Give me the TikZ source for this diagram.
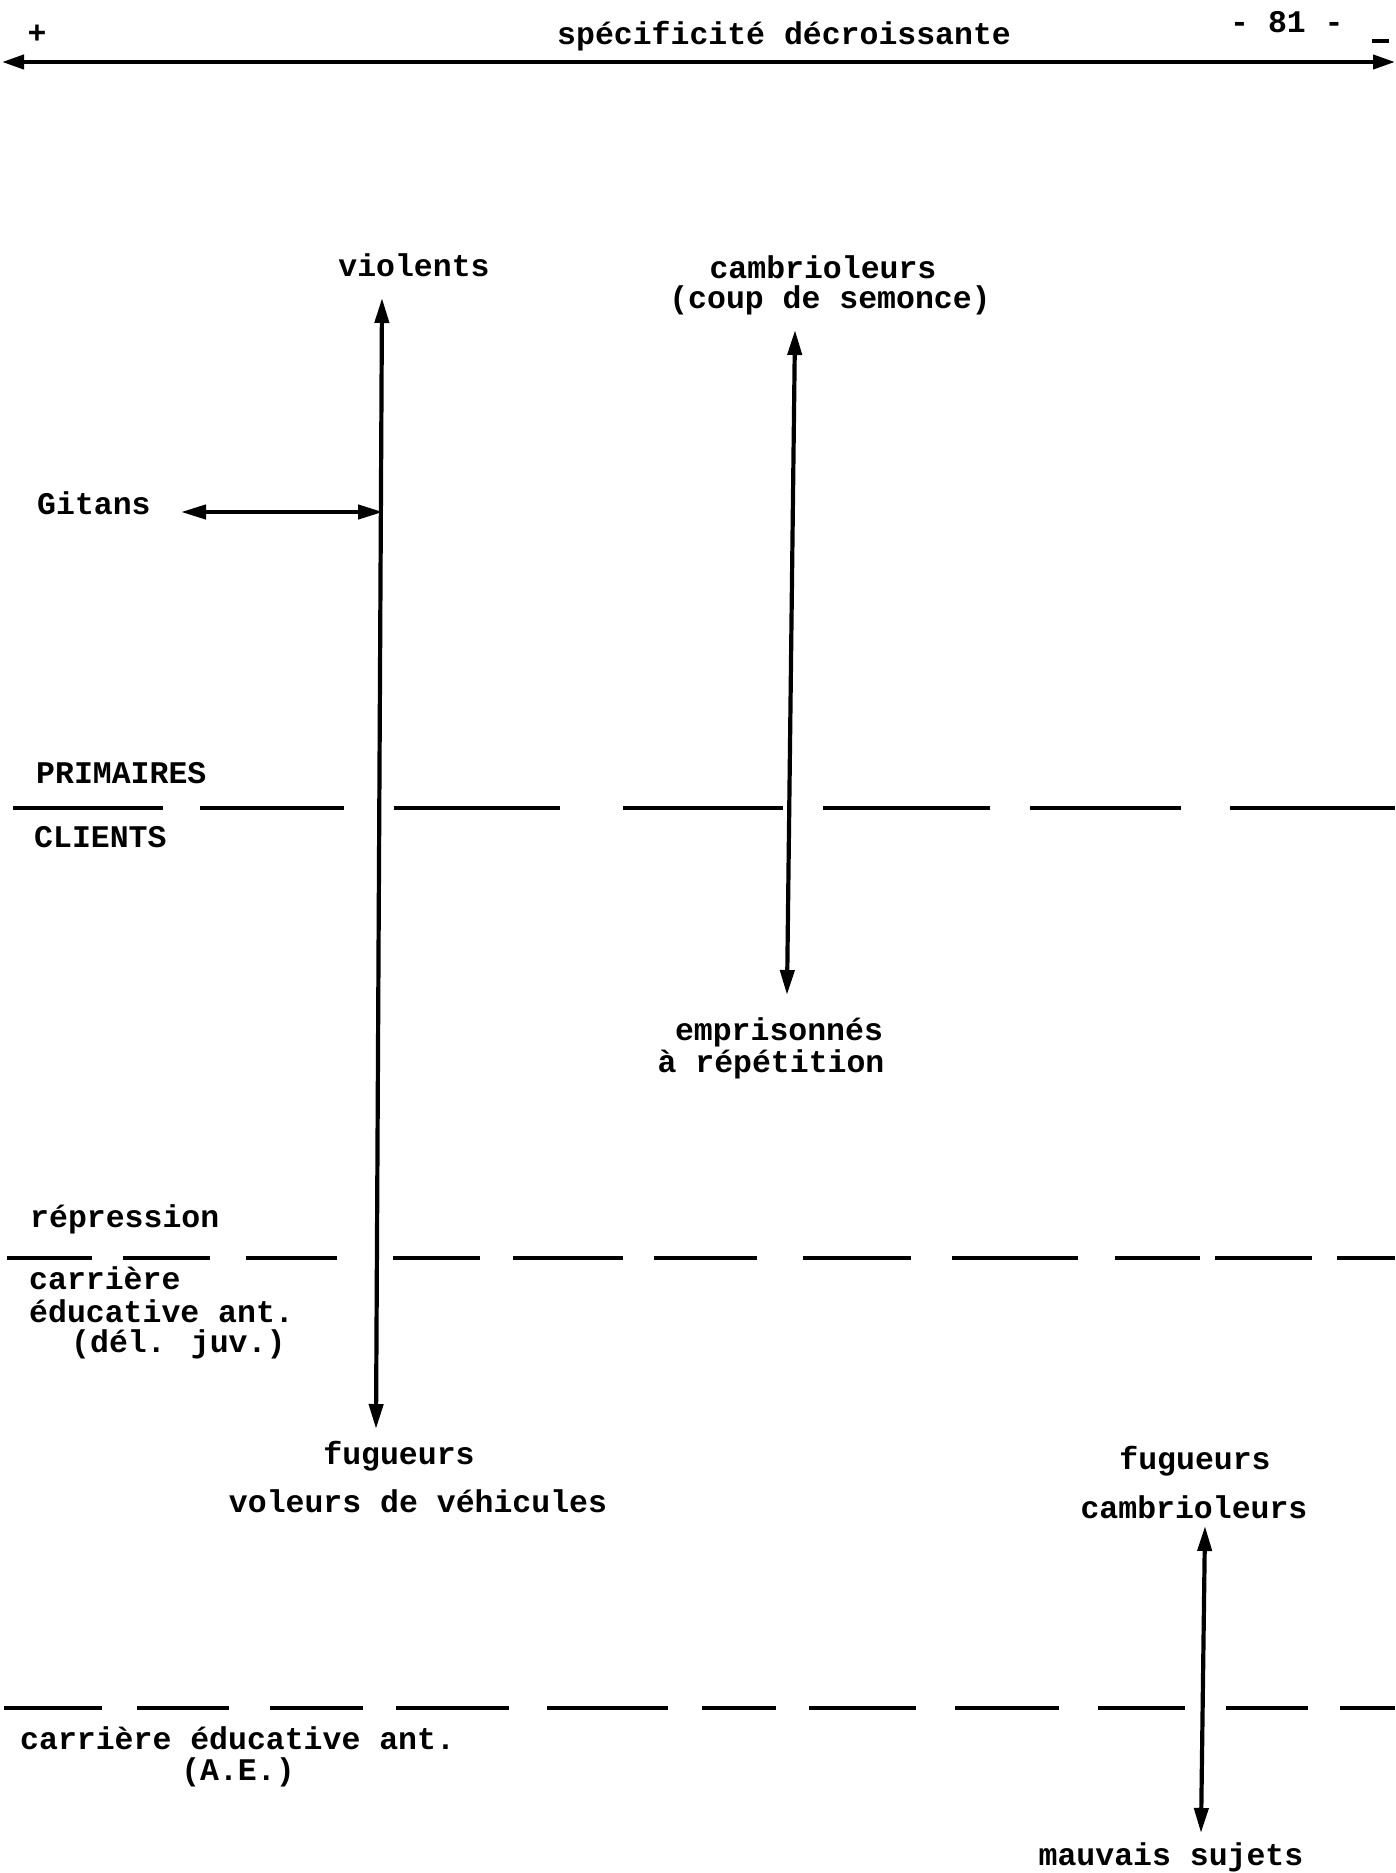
\documentclass[tikz,border=0pt]{standalone}
\usepackage{fontspec}
\setmainfont{Liberation Mono}
\usetikzlibrary{arrows.meta}
\tikzset{
  lbl/.style={font=\fontsize{31.5}{36}\selectfont\bfseries, inner sep=0pt},
  dbl/.style={line width=4.2pt, {Triangle[length=25pt,width=14pt]}-{Triangle[length=25pt,width=14pt]}},
  dashseg/.style={line width=4.5pt},
}
\begin{document}
\begin{tikzpicture}[x=1pt,y=-1pt]
\useasboundingbox[fill=white] (0,0) rectangle (1395,1873);

% header
\node[lbl] (plus) at (37,34) {+};
\node[lbl, anchor=mid west] (title) at (557,42) {spécificité décroissante};
\node[lbl, anchor=mid west] (page) at (1230,30) {- 81 -};
\coordinate (mk1) at (1372,41);
\coordinate (mk2) at (1389,41);
\draw[line width=4pt] (mk1) -- (mk2);
\coordinate (axL) at (2,62);
\coordinate (axR) at (1395,62);
\draw[line width=4pt, {Triangle[length=22pt,width=14pt]}-{Triangle[length=22pt,width=14pt]}] (axL) -- (axR);

% labels
\node[lbl] (viol) at (414,265) {violents};
\node[lbl] (camb) at (823,267) {cambrioleurs};
\node[lbl] (coup) at (830,300) {(coup de semonce)};
\node[lbl, anchor=mid west] (gitans) at (37,512) {Gitans};
\node[lbl, anchor=mid west] (prim) at (36,781) {PRIMAIRES};
\node[lbl, anchor=mid west] (cli) at (34,845) {CLIENTS};
\node[lbl] (empr) at (779,1032) {emprisonnés};
\node[lbl] (arep) at (771,1064) {à répétition};
\node[lbl, anchor=mid west] (repr) at (30,1225) {répression};
\node[lbl, anchor=mid west] (car1) at (29,1287) {carrière};
\node[lbl, anchor=mid west] (car2) at (29,1320) {éducative ant.};
\node[lbl, anchor=mid west] (car3) at (71,1350) {(dél. juv.)};
\node[lbl] (fug1) at (399,1456) {fugueurs};
\node[lbl] (vol) at (418,1501) {voleurs de véhicules};
\node[lbl] (fug2) at (1195,1461) {fugueurs};
\node[lbl] (camb2) at (1194,1507) {cambrioleurs};
\node[lbl, anchor=mid west] (carAE) at (20,1747) {carrière éducative ant.};
\node[lbl] (ae) at (238,1772) {(A.E.)};
\node[lbl] (mauv) at (1171,1857) {mauvais sujets};

% arrow end points
\coordinate (vT) at (382,298);
\coordinate (vB) at (376,1429);
\coordinate (gL) at (181,512);
\coordinate (gR) at (383,512);
\coordinate (cT) at (795,330);
\coordinate (cB) at (787,995);
\coordinate (rT) at (1205,1526);
\coordinate (rB) at (1201,1833);

\draw[dbl] (vT) -- (vB);
\draw[dbl] (gL) -- (gR);
\draw[dbl] (cT) -- (cB);
\draw[dbl] (rT) -- (rB);

% dashed separators
\foreach \a/\b in {13/163,200/344,394/560,623/783,823/990,1030/1181,1230/1395}
  \draw[dashseg] (\a,808) -- (\b,808);
\foreach \a/\b in {7/92,123/210,246/337,393/480,513/623,654/757,803/911,952/1078,1115/1200,1215/1312,1337/1395}
  \draw[dashseg] (\a,1258) -- (\b,1258);
\foreach \a/\b in {4/102,137/229,270/363,396/509,547/668,702/776,809/916,955/1059,1098/1185,1226/1308,1340/1395}
  \draw[dashseg] (\a,1708) -- (\b,1708);
\end{tikzpicture}
\end{document}
